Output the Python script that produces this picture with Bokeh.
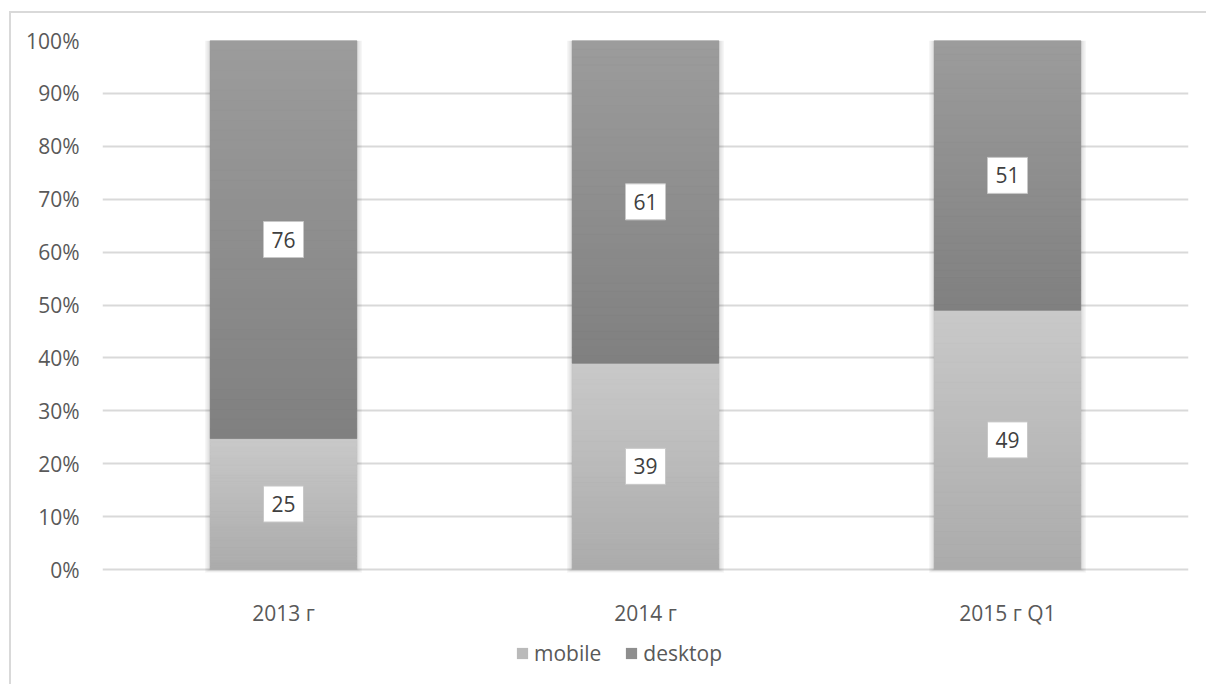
import numpy as np
from bokeh.plotting import figure
from bokeh.models import (ColumnDataSource, Legend, LegendItem,
                          FixedTicker, Range1d, NumeralTickFormatter)
from bokeh.core.properties import value
from bokeh.embed import file_html
from bokeh.resources import INLINE

categories = ["2013 г", "2014 г", "2015 г Q1"]
mobile = [25, 39, 49]
desktop = [76, 61, 51]
series_names = ["mobile", "desktop"]
y_ticks = [0, 0.1, 0.2, 0.3, 0.4, 0.5, 0.6, 0.7, 0.8, 0.9, 1.0]

FONT = "Open Sans"
FS = "21px"
BAR_W = 0.405

totals = [m + d for m, d in zip(mobile, desktop)]
mob_share = [m / t for m, t in zip(mobile, totals)]
desk_share = [d / t for d, t in zip(desktop, totals)]

# layout (page pixels)
OX, OY = 11, 13          # canvas offset after margin + border
PAGE_W, PAGE_H = 1208, 686
TOP_PX, ZERO_PX = 40, 569
px_per_unit = ZERO_PX - TOP_PX
y_start = -(PAGE_H - ZERO_PX) / px_per_unit

p = figure(x_range=categories, y_range=Range1d(y_start, 1), width=PAGE_W - OX,
           height=PAGE_H - OY, output_backend="svg", toolbar_location=None,
           x_axis_location=None,
           min_border_left=102 - OX, min_border_right=20, min_border_top=TOP_PX - OY,
           min_border_bottom=0)
p.styles = {"margin-left": "9px", "margin-top": "11px",
            "border-left": "2px solid #d9d9d9", "border-top": "2px solid #d9d9d9"}
p.outline_line_color = None
p.background_fill_color = "white"
p.border_fill_color = "white"

# shadows
for k in range(1, 5):
    p.vbar(x=categories, bottom=-0.0015 * k, top=1.0, width=BAR_W + 2 * k * 1.3 / 362,
           fill_color="black", fill_alpha=0.035, line_color=None)

def hexc(c):
    c = int(round(c))
    return "#%02x%02x%02x" % (c, c, c)

def gradient(bottoms, tops, c_bot, c_top, n=40):
    xs, b, t, cols = [], [], [], []
    for cat, b0, t0 in zip(categories, bottoms, tops):
        for j in range(n):
            xs.append(cat)
            b.append(b0 + (t0 - b0) * j / n)
            t.append(b0 + (t0 - b0) * (j + 1) / n)
            f = (j + 0.5) / n
            cols.append(hexc(c_bot + (c_top - c_bot) * f))
    return ColumnDataSource(dict(x=xs, bottom=b, top=t, color=cols))

mob_bot = [0] * 3
mob_top = mob_share
desk_bot = mob_share
desk_top = [a + b for a, b in zip(mob_share, desk_share)]

r_mob = p.vbar(x=categories, bottom=mob_bot, top=mob_top, width=BAR_W,
               fill_color="#bababa", line_color=None)
p.vbar(x="x", bottom="bottom", top="top", width=BAR_W, fill_color="color",
       line_color="color", line_width=0.6, source=gradient(mob_bot, mob_top, 0xab, 0xc9))
r_desk = p.vbar(x=categories, bottom=desk_bot, top=desk_top, width=BAR_W,
                fill_color="#8e8e8e", line_color=None)
p.vbar(x="x", bottom="bottom", top="top", width=BAR_W, fill_color="color",
       line_color="color", line_width=0.6, source=gradient(desk_bot, desk_top, 0x80, 0x9c))

# data labels
lab_x = categories + categories
lab_y = [b + (t - b) / 2 for b, t in zip(mob_bot, mob_top)] + \
        [b + (t - b) / 2 for b, t in zip(desk_bot, desk_top)]
lab_t = [str(v) for v in mobile + desktop]
p.rect(x=lab_x, y=lab_y, width=40, height=36, width_units="screen", height_units="screen",
       fill_color="white", line_color="#c8c8c8", line_width=1)
p.text(x=lab_x, y=lab_y, text=lab_t, text_align="center", text_baseline="middle",
       text_font=value(FONT), text_font_size=FS, text_color="#404040")

# category (x-axis) labels below the 0% line
p.text(x=categories, y=[0] * len(categories), text=categories, y_offset=43,
       text_align="center", text_baseline="middle", text_font=value(FONT),
       text_font_size=FS, text_color="#595959")

# y axis & grid
p.yaxis.ticker = FixedTicker(ticks=y_ticks)
p.yaxis.formatter = NumeralTickFormatter(format="0%")
p.yaxis.axis_line_color = None
p.yaxis.major_tick_line_color = None
p.yaxis.minor_tick_line_color = None
p.yaxis.major_label_standoff = 17
p.yaxis.major_label_text_font = FONT
p.yaxis.major_label_text_font_size = FS
p.yaxis.major_label_text_color = "#595959"
p.xgrid.grid_line_color = None
p.ygrid.grid_line_color = "#d9d9d9"
p.ygrid.grid_line_width = 2
p.x_range.range_padding = 0.0

legend = Legend(items=[LegendItem(label=series_names[0], renderers=[r_mob]),
                       LegendItem(label=series_names[1], renderers=[r_desk])],
                orientation="horizontal", location=(413, 19),
                label_text_font=FONT, label_text_font_size=FS,
                label_text_color="#595959", glyph_width=14, glyph_height=14,
                label_standoff=5, spacing=23, padding=0, margin=0,
                border_line_color=None, background_fill_alpha=0)
p.add_layout(legend, "center")

open("out.html", "w").write(file_html(p, INLINE))
